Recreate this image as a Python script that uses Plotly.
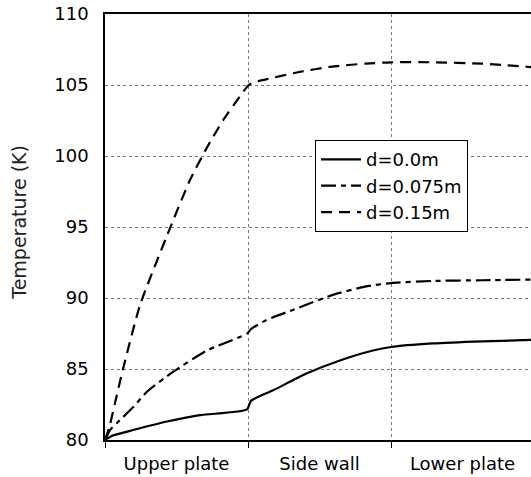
import plotly.graph_objects as go

# Position along the wall (0-1 upper plate, 1-2 side wall, 2-3 lower plate)
pos_d0 = [0.0, 0.05, 0.196, 0.434, 0.664, 0.993, 1.02, 1.175, 1.413, 1.643, 1.874, 2.0, 2.29, 2.64, 3.0]
temp_d0 = [80.0, 80.3, 80.7, 81.3, 81.75, 82.15, 82.75, 83.5, 84.7, 85.6, 86.3, 86.55, 86.8, 86.95, 87.05]

pos_d075 = [0.0, 0.035, 0.084, 0.196, 0.294, 0.476, 0.713, 0.93, 0.995, 1.02, 1.119, 1.35, 1.587, 1.818, 2.0, 2.29, 2.64, 3.0]
temp_d075 = [80.0, 80.7, 81.2, 82.3, 83.4, 84.8, 86.3, 87.2, 87.5, 87.8, 88.4, 89.3, 90.2, 90.8, 91.05, 91.2, 91.25, 91.3]

pos_d15 = [0.0, 0.03, 0.07, 0.126, 0.245, 0.434, 0.594, 0.713, 0.825, 0.965, 1.0, 1.03, 1.126, 1.35, 1.587, 1.818, 2.0, 2.29, 2.64, 3.0]
temp_d15 = [80.0, 80.9, 82.6, 85.0, 89.5, 94.4, 98.3, 100.6, 102.5, 104.5, 104.95, 105.15, 105.4, 105.9, 106.3, 106.5, 106.6, 106.6, 106.5, 106.25]

series_names = ["d=0.0m", "d=0.075m", "d=0.15m"]
section_labels = ["Upper plate", "Side wall", "Lower plate"]
section_centers = [0.5, 1.5, 2.5]
section_bounds = [0, 1, 2, 3]
y_title = "Temperature (K)"

fig = go.Figure()
fig.add_trace(go.Scatter(x=pos_d0, y=temp_d0, mode="lines", name=series_names[0],
                         line=dict(color="black", width=2.2, shape="spline", smoothing=0.6)))
fig.add_trace(go.Scatter(x=pos_d075, y=temp_d075, mode="lines", name=series_names[1],
                         line=dict(color="black", width=2.2, dash="15px,5px,5px,5px", shape="spline", smoothing=0.6)))
fig.add_trace(go.Scatter(x=pos_d15, y=temp_d15, mode="lines", name=series_names[2],
                         line=dict(color="black", width=2.2, dash="11px,7px", shape="spline", smoothing=0.6)))

font_family = "DejaVu Sans, Arial, sans-serif"

fig.update_layout(
    width=531, height=477,
    margin=dict(l=105, r=0, t=14, b=37, autoexpand=False),
    plot_bgcolor="white", paper_bgcolor="white",
    font=dict(family=font_family, size=18, color="black"),
    showlegend=True,
    legend=dict(x=0.493, y=0.704, xanchor="left", yanchor="top",
                bordercolor="black", borderwidth=1, bgcolor="white",
                font=dict(size=18), tracegroupgap=0, itemwidth=40),
    xaxis=dict(
        range=[0, 2.979], automargin=False,
        tickmode="array", tickvals=section_centers, ticktext=section_labels,
        ticks="", showgrid=False, zeroline=False,
        showline=True, linecolor="black", linewidth=1.5, mirror=True,
        tickfont=dict(size=18), ticklabelstandoff=7,
        minor=dict(tickmode="array", tickvals=section_bounds, ticks="outside", ticklen=6,
                   tickcolor="black", tickwidth=1, showgrid=True,
                   gridcolor="#777777", griddash="dot", gridwidth=1),
    ),
    yaxis=dict(
        range=[80, 110], dtick=5, tick0=80, automargin=False,
        showgrid=True, gridcolor="#777777", griddash="dot", gridwidth=1,
        zeroline=False, showline=True, linecolor="black", linewidth=1.5,
        ticks="", ticklabelstandoff=11, tickfont=dict(size=18),
        ticklabeloverflow="allow",
    ),
    annotations=[dict(text=y_title, textangle=-90, xref="paper", yref="paper",
                      x=-86 / 426, y=0.51, xanchor="center", yanchor="middle",
                      showarrow=False, font=dict(size=19, color="#222222"))],
)

# Remove the default 8px page margin so the figure fills the window exactly.
fig.write_html("out.html", config={"displayModeBar": False},
               post_script="document.body.style.margin='0';")
